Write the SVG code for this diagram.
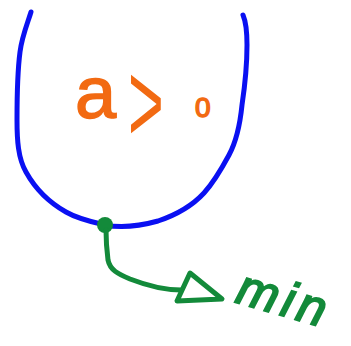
<svg xmlns="http://www.w3.org/2000/svg" width="351" height="346" viewBox="0 0 351 346">
<style>
.curve{fill:none;stroke:#0a10f2;stroke-width:5;stroke-linecap:round;stroke-linejoin:round}
.grn{fill:none;stroke:#138a3a;stroke-width:5;stroke-linecap:round;stroke-linejoin:round}
.lbl-o{fill:#f26a12;stroke:#f26a12;stroke-width:1.5;font-family:"Liberation Sans",Arial,sans-serif}
.lbl-g{fill:#138a3a;stroke:#138a3a;stroke-width:2;font-family:"Liberation Sans",Arial,sans-serif;font-style:italic}
</style>
<rect width="351" height="346" fill="#ffffff"/>
<g id="parabola">
<path class="curve" d="M31,12 C28,22 22,36 20,52 C17,75 17,100 17,120 C17,140 18,158 26,172 C36,190 50,203 66,212 C78,219 92,222 105,225 C120,228 140,226 158,221 C176,215 192,206 204,193 C214,182 222,168 229,155 C236,142 240,125 242,105 C245,85 247,65 247,45 C247,30 246,22 243,15"/>
</g>
<g id="label-a">
<text class="lbl-o"><tspan x="75" y="118" font-size="74">a</tspan></text>
<text class="lbl-o" style="stroke-width:0" transform="translate(128,142) scale(0.85,1.6)" font-size="72">&gt;</text>
<text class="lbl-o" x="195" y="117" font-size="28">0</text>
</g>
<g id="vertex">
<circle cx="105" cy="225" r="8" fill="#138a3a"/>
</g>
<g id="connectors">
<path class="grn" d="M106,230 C106,240 107,252 108,260 C110,270 118,274 130,279 C148,286 165,290 181,290"/>
<path class="grn" d="M190,273 L222,299 L177,301 Z"/>
</g>
<g id="label-min">
<text class="lbl-g" font-size="50" letter-spacing="5" transform="translate(234,302) rotate(16)">min</text>
</g>
</svg>
